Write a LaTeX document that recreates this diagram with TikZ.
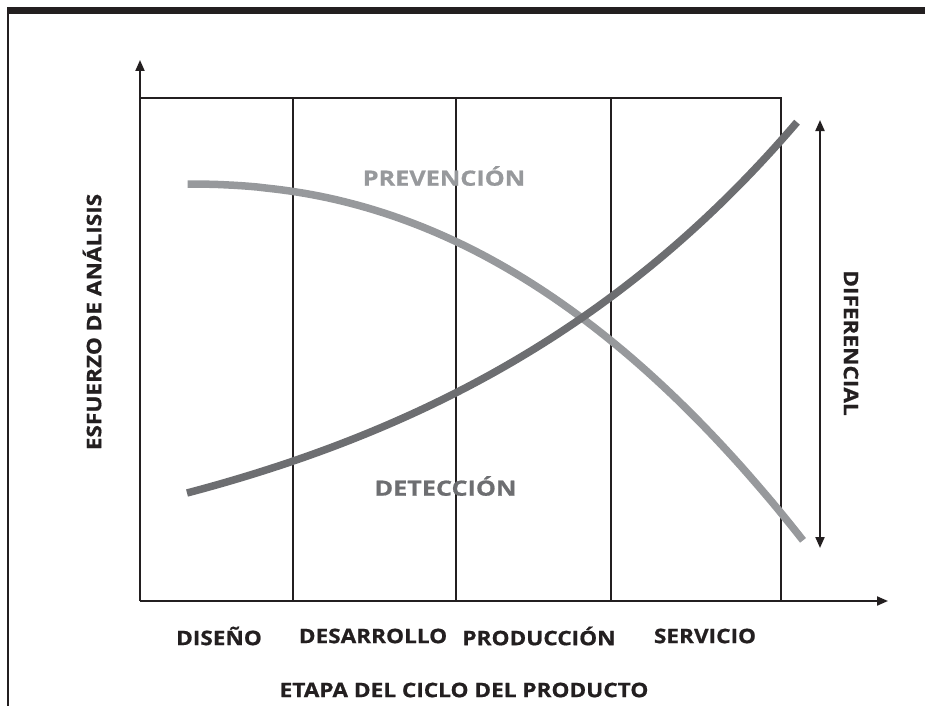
\documentclass[tikz,border=0pt]{standalone}
\usepackage{fontspec}
\setmainfont{Open Sans}
\newfontfamily\lblfont{Open Sans}[FakeStretch=1.13, FakeBold=0.8]
\newfontfamily\crvfont{Open Sans}[FakeStretch=1.2, FakeBold=0.8]
\usetikzlibrary{arrows.meta}
\definecolor{ink}{HTML}{231F20}
\definecolor{detc}{HTML}{6D6E71}
\definecolor{prevc}{HTML}{97999C}
\tikzset{
  frame/.style={draw=ink, line width=2pt},
  axis/.style={draw=ink, line width=2pt, -{Triangle[length=11pt,width=9pt]}},
  curve/.style={line width=7.5pt},
  lbl/.style={font=\lblfont\bfseries\fontsize{20}{23}\selectfont, text=ink, inner sep=0pt},
  clbl/.style={font=\crvfont\bfseries\fontsize{21}{24}\selectfont, inner sep=0pt},
}
\begin{document}
\begin{tikzpicture}[x=1pt,y=-1pt]
\useasboundingbox (0,0) rectangle (925,706);
% page frame
\fill[ink] (7,7) rectangle (925,14);
\draw[ink, line width=1.5pt] (8,14) -- (8,706);
% coordinates
\coordinate (O) at (140,601);
\coordinate (ytip) at (140,60);
\coordinate (xtip) at (888,601);
\coordinate (TL) at (140,98);
\coordinate (TR) at (781,98);
\coordinate (BR) at (781,601);
% box & dividers
\draw[frame] (TL) -- (TR) -- (BR);
\foreach \x/\n in {293/a,456/b,611/c}{
  \coordinate (t\n) at (\x,98);
  \coordinate (b\n) at (\x,601);
  \draw[frame] (t\n) -- (b\n);
}
% axes
\draw[axis] (O) -- (ytip);
\draw[axis] (O) -- (xtip);
% curves
\draw[curve, prevc] plot[domain=187.5:803, samples=80] (\x, {184+329*pow((\x-187)/594,2.2)});
\draw[curve, detc] plot[domain=187:797, samples=80] (\x, {601-108*exp(0.00244*(\x-187))});
% diferencial arrow
\coordinate (dtop) at (820,120);
\coordinate (dbot) at (820,548);
\draw[ink, line width=2pt, {Triangle[length=11pt,width=9pt]}-{Triangle[length=11pt,width=9pt]}] (dtop) -- (dbot);
% labels
\node[clbl, text=prevc] (prev) at (444,176) {PREVENCIÓN};
\node[clbl, text=detc] (det) at (445.5,486) {DETECCIÓN};
\node[lbl] (dis) at (219,636) {DISEÑO};
\node[lbl] (des) at (373,636) {DESARROLLO};
\node[lbl] (pro) at (539,636) {PRODUCCIÓN};
\node[lbl] (ser) at (705,636) {SERVICIO};
\node[lbl] (etapa) at (464,690) {ETAPA DEL CICLO DEL PRODUCTO};
\node[lbl, rotate=90] (esf) at (92,322) {ESFUERZO DE ANÁLISIS};
\node[lbl, rotate=-90] (dif) at (851,343) {DIFERENCIAL};
\end{tikzpicture}
\end{document}
